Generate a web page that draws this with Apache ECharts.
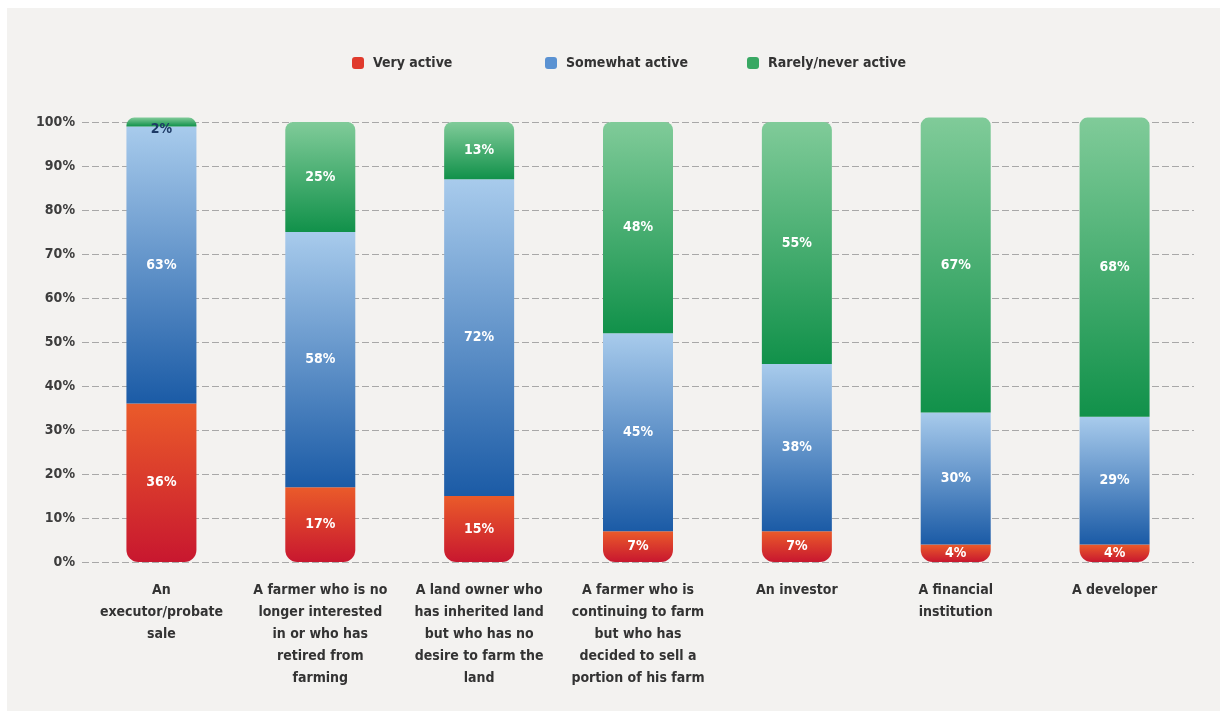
<!DOCTYPE html>
<html>
<head>
<meta charset="utf-8">
<script src="https://cdn.jsdelivr.net/npm/echarts@6/dist/echarts.min.js"></script>
<style>
  html, body { margin: 0; padding: 0; background: #ffffff; }
  #chart { position: absolute; left: 7px; top: 8px; width: 1213px; height: 703px; background: #f3f2f0; }
</style>
</head>
<body>
<div id="chart"></div>
<script>
// Who is selling farmland: share of each seller type by activity level
const categories = [
  'An\nexecutor/probate\nsale',
  'A farmer who is no\nlonger interested\nin or who has\nretired from\nfarming',
  'A land owner who\nhas inherited land\nbut who has no\ndesire to farm the\nland',
  'A farmer who is\ncontinuing to farm\nbut who has\ndecided to sell a\nportion of his farm',
  'An investor',
  'A financial\ninstitution',
  'A developer'
];
const veryActive = [36, 17, 15, 7, 7, 4, 4];
const somewhatActive = [63, 58, 72, 45, 38, 30, 29];
const rarelyActive = [2, 25, 13, 48, 55, 67, 68];
const seriesNames = ['Very active', 'Somewhat active', 'Rarely/never active'];
const yTicks = [0, 10, 20, 30, 40, 50, 60, 70, 80, 90, 100];

const FONT = '"DejaVu Sans Condensed", "DejaVu Sans", sans-serif';

function vgrad(top, bottom) {
  return new echarts.graphic.LinearGradient(0, 0, 0, 1, [
    { offset: 0, color: top },
    { offset: 1, color: bottom }
  ]);
}

const labelStyle = {
  show: true,
  position: 'inside',
  formatter: p => p.value + '%',
  color: '#ffffff',
  fontFamily: FONT,
  fontWeight: 'bold',
  fontSize: 14
};

const chart = echarts.init(document.getElementById('chart'), null, { renderer: 'canvas' });

const legendCommon = {
  top: 43,
  itemWidth: 12,
  itemHeight: 12,
  icon: 'roundRect',
  itemGap: 0,
  textStyle: { fontFamily: FONT, fontWeight: 'bold', fontSize: 14, color: '#333333', padding: [0, 0, 0, 4] },
  selectedMode: false
};

chart.setOption({
  backgroundColor: 'transparent',
  animation: false,
  legend: [
    Object.assign({}, legendCommon, { left: 340, data: [{ name: seriesNames[0], itemStyle: { color: '#e03a2c' } }] }),
    Object.assign({}, legendCommon, { left: 533, data: [{ name: seriesNames[1], itemStyle: { color: '#5a92d2' } }] }),
    Object.assign({}, legendCommon, { left: 735, data: [{ name: seriesNames[2], itemStyle: { color: '#38a863' } }] })
  ],
  grid: { left: 75, right: 26, top: 114, bottom: 149, containLabel: false },
  xAxis: {
    type: 'category',
    data: categories,
    axisLine: { show: false },
    axisTick: { show: false },
    axisLabel: {
      interval: 0,
      margin: 17,
      fontFamily: FONT,
      fontWeight: 'bold',
      fontSize: 14,
      lineHeight: 22,
      color: '#333333',
      align: 'center'
    }
  },
  yAxis: {
    type: 'value',
    min: 0,
    max: 100,
    interval: 10,
    axisLine: { show: false },
    axisTick: { show: false },
    axisLabel: {
      margin: 7,
      fontFamily: FONT,
      fontWeight: 'bold',
      fontSize: 14,
      color: '#3d3d3d',
      formatter: v => (yTicks.includes(v) ? v + '%' : '')
    },
    splitLine: { lineStyle: { color: '#a8a8a8', type: [7, 3], width: 1 } }
  },
  series: [
    {
      name: seriesNames[0],
      type: 'bar',
      stack: 'total',
      barWidth: 70,
      clip: false,
      data: veryActive,
      itemStyle: { color: vgrad('#ea5b2a', '#c8172f'), borderRadius: [0, 0, 12, 12] },
      label: labelStyle
    },
    {
      name: seriesNames[1],
      type: 'bar',
      stack: 'total',
      barWidth: 70,
      clip: false,
      data: somewhatActive,
      itemStyle: { color: vgrad('#a8cbec', '#1b5ba6') },
      label: labelStyle
    },
    {
      name: seriesNames[2],
      type: 'bar',
      stack: 'total',
      barWidth: 70,
      clip: false,
      data: rarelyActive.map((v, i) => (i === 0
        ? { value: v, label: { color: '#1d3a66', position: 'inside', offset: [0, 7] } }
        : v)),
      itemStyle: { color: vgrad('#80cb99', '#11914a'), borderRadius: [8, 8, 0, 0] },
      label: labelStyle
    }
  ]
});
</script>
</body>
</html>
